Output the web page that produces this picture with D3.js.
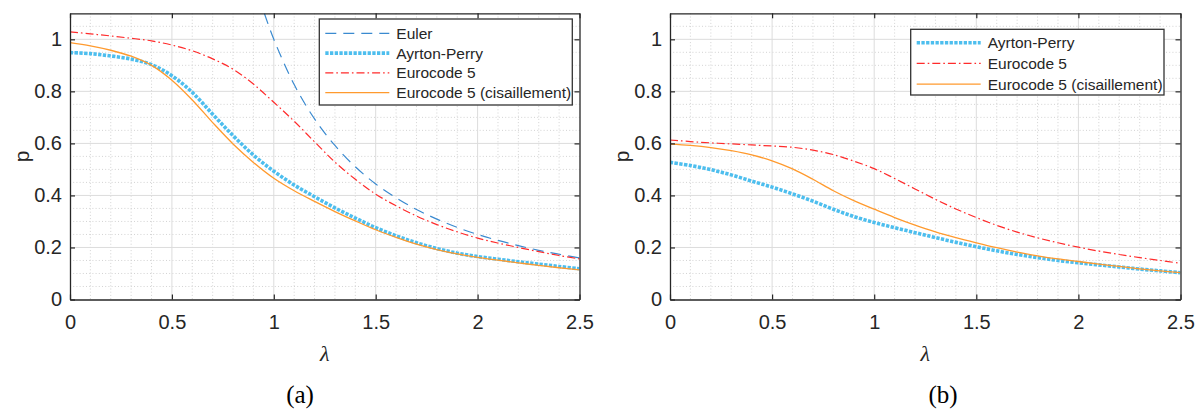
<!DOCTYPE html>
<html><head><meta charset="utf-8">
<script src="https://cdn.jsdelivr.net/npm/d3@7"></script>
<style>
body{margin:0;background:#fff}
text{font-family:"Liberation Sans",Arial,sans-serif}
</style></head><body>
<svg id="c" width="1196" height="410"></svg>
<script>
// ---------- data ----------
const lambda = [0,0.1,0.2,0.3,0.4,0.5,0.6,0.7,0.8,0.9,1.0,1.1,1.2,1.3,1.4,1.5,1.6,1.7,1.8,1.9,2.0,2.1,2.2,2.3,2.4,2.5];

// panel (a)
const eulerLambdaA = [0.954,1.0,1.1,1.2,1.3,1.4,1.5,1.6,1.7,1.8,1.9,2.0,2.1,2.2,2.3,2.4,2.5];
const eulerA = [1.099,1.0,0.826,0.694,0.592,0.510,0.444,0.391,0.346,0.309,0.277,0.250,0.227,0.207,0.189,0.174,0.160];
const ayrtonA = [0.949,0.945,0.936,0.924,0.903,0.860,0.796,0.712,0.630,0.555,0.493,0.440,0.395,0.352,0.313,0.276,0.245,0.218,0.196,0.178,0.165,0.155,0.145,0.136,0.127,0.118];
const ec5A = [1.029,1.021,1.013,1.004,0.994,0.978,0.956,0.925,0.885,0.828,0.758,0.685,0.606,0.528,0.462,0.405,0.360,0.321,0.288,0.260,0.236,0.217,0.200,0.184,0.169,0.156];
const ec5ShearA = [0.987,0.975,0.958,0.935,0.900,0.843,0.767,0.680,0.598,0.527,0.466,0.418,0.377,0.338,0.302,0.268,0.239,0.213,0.192,0.175,0.162,0.151,0.141,0.131,0.122,0.114];

// panel (b)
const ayrtonB = [0.527,0.515,0.499,0.479,0.455,0.432,0.406,0.378,0.347,0.319,0.296,0.276,0.257,0.238,0.220,0.203,0.187,0.173,0.161,0.150,0.141,0.133,0.125,0.117,0.110,0.103];
const ec5B = [0.613,0.607,0.602,0.598,0.594,0.590,0.585,0.574,0.557,0.532,0.503,0.465,0.425,0.385,0.348,0.315,0.285,0.259,0.237,0.218,0.201,0.186,0.173,0.161,0.150,0.139];
const ec5ShearB = [0.597,0.592,0.584,0.572,0.556,0.533,0.502,0.462,0.418,0.380,0.347,0.315,0.286,0.260,0.238,0.218,0.199,0.182,0.168,0.156,0.146,0.136,0.127,0.118,0.110,0.103];

// axes
const xMajorTicks = [0,0.5,1,1.5,2,2.5];
const yMajorTicks = [0,0.2,0.4,0.6,0.8,1];
const xDomain = [0,2.5];
const yDomain = [0,1.1];
const seriesNames = ["Euler","Ayrton-Perry","Eurocode 5","Eurocode 5 (cisaillement)"];
const xLabel = "λ";
const yLabel = "p";
const captions = ["(a)","(b)"];

// ---------- styles ----------
const styles = {
  "Euler": {stroke:"#3a8ad0", width:1.2, dash:"11,7"},
  "Ayrton-Perry": {stroke:"#4dbeee", width:3.6, dash:"3.3,1.4"},
  "Eurocode 5": {stroke:"#ff2b2b", width:1.2, dash:"8,3,1.6,3"},
  "Eurocode 5 (cisaillement)": {stroke:"#ff9a2e", width:1.3, dash:null}
};

const svg = d3.select("#c");
const axisColor = "#262626";

function panel(cfg, idx){
  const x = d3.scaleLinear().domain(xDomain).range([cfg.left, cfg.right]);
  const y = d3.scaleLinear().domain(yDomain).range([cfg.bottom, cfg.top]);
  const g = svg.append("g");

  // minor grid
  const xMinor = d3.range(1,25).map(i=>i/10).filter(v=>Math.abs(v*2-Math.round(v*2))>1e-6);
  const yMinor = d3.range(1,22).map(i=>i/20).filter(v=>Math.abs(v*5-Math.round(v*5))>1e-6);
  g.append("g").selectAll("line").data(xMinor).join("line")
    .attr("x1",d=>x(d)).attr("x2",d=>x(d)).attr("y1",cfg.top).attr("y2",cfg.bottom)
    .attr("stroke","#c8c8c8").attr("stroke-width",0.8).attr("stroke-dasharray","1,2.2");
  g.append("g").selectAll("line").data(yMinor).join("line")
    .attr("y1",d=>y(d)).attr("y2",d=>y(d)).attr("x1",cfg.left).attr("x2",cfg.right)
    .attr("stroke","#c8c8c8").attr("stroke-width",0.8).attr("stroke-dasharray","1,2.2");
  // major grid
  g.append("g").selectAll("line").data(xMajorTicks.slice(1,-1)).join("line")
    .attr("x1",d=>x(d)).attr("x2",d=>x(d)).attr("y1",cfg.top).attr("y2",cfg.bottom)
    .attr("stroke","#dcdcdc").attr("stroke-width",1);
  g.append("g").selectAll("line").data(yMajorTicks.slice(1)).join("line")
    .attr("y1",d=>y(d)).attr("y2",d=>y(d)).attr("x1",cfg.left).attr("x2",cfg.right)
    .attr("stroke","#dcdcdc").attr("stroke-width",1);

  // clip
  const clipId = "clip"+idx;
  svg.append("clipPath").attr("id",clipId).append("rect")
    .attr("x",cfg.left).attr("y",cfg.top).attr("width",cfg.right-cfg.left).attr("height",cfg.bottom-cfg.top);

  const line = d3.line().x(d=>x(d[0])).y(d=>y(d[1])).curve(d3.curveCatmullRom.alpha(0.5));
  const lines = g.append("g").attr("clip-path",`url(#${clipId})`);
  cfg.series.forEach(s=>{
    const st = styles[s.name];
    const pts = s.xs.map((v,i)=>[v,s.ys[i]]);
    lines.append("path").datum(pts).attr("d",line)
      .attr("fill","none").attr("stroke",st.stroke).attr("stroke-width",st.width)
      .attr("stroke-dasharray",st.dash).attr("stroke-linejoin","round");
  });

  // axes
  const fmt = d3.format("~g");
  const ax = [
    g.append("g").attr("transform",`translate(0,${cfg.bottom})`)
      .call(d3.axisBottom(x).tickValues(xMajorTicks).tickFormat(fmt).tickSizeInner(-5).tickSizeOuter(0).tickPadding(15.5)),
    g.append("g").attr("transform",`translate(${cfg.left},0)`)
      .call(d3.axisLeft(y).tickValues(yMajorTicks).tickFormat(fmt).tickSizeInner(-5).tickSizeOuter(0).tickPadding(8)),
    g.append("g").attr("transform",`translate(0,${cfg.top})`)
      .call(d3.axisTop(x).tickValues(xMajorTicks).tickFormat("").tickSizeInner(-5).tickSizeOuter(0)),
    g.append("g").attr("transform",`translate(${cfg.right},0)`)
      .call(d3.axisRight(y).tickValues(yMajorTicks).tickFormat("").tickSizeInner(-5).tickSizeOuter(0))
  ];
  ax.forEach(a=>{
    a.select(".domain").attr("stroke",axisColor).attr("stroke-width",1.3);
    a.selectAll(".tick line").attr("stroke",axisColor).attr("stroke-width",1.2);
    a.selectAll(".tick text").attr("fill",axisColor).style("font-size","20px")
      .style("font-family",'"Liberation Sans",Arial,sans-serif');
  });

  // labels
  g.append("text").attr("transform",`translate(${cfg.left-47},${(cfg.top+cfg.bottom)/2}) rotate(-90)`)
    .attr("text-anchor","middle").attr("dominant-baseline","middle")
    .attr("fill",axisColor).style("font-size","21px").text(yLabel);
  g.append("text").attr("x",(cfg.left+cfg.right)/2).attr("y",cfg.bottom+61)
    .attr("text-anchor","middle").attr("fill",axisColor)
    .style("font-family",'"Liberation Serif","Times New Roman",serif').style("font-style","italic")
    .style("font-size","22px").text(xLabel);
  g.append("text").attr("x",cfg.captionX).attr("y",403)
    .attr("text-anchor","middle").attr("fill","#000")
    .style("font-family",'"Liberation Serif","Times New Roman",serif')
    .style("font-size","25px").text(captions[idx]);

  // legend
  const L = cfg.legend;
  const lg = g.append("g");
  lg.append("rect").attr("x",L.x).attr("y",L.y).attr("width",L.w).attr("height",L.h)
    .attr("fill","#fff").attr("stroke","#333").attr("stroke-width",1.3);
  cfg.series.forEach((s,i)=>{
    const st = styles[s.name];
    const cy = L.y + L.first + i*L.step;
    lg.append("line").attr("x1",L.x+6).attr("x2",L.x+70).attr("y1",cy).attr("y2",cy)
      .attr("stroke",st.stroke).attr("stroke-width",st.width).attr("stroke-dasharray",st.dash);
    lg.append("text").attr("x",L.x+77).attr("y",cy).attr("dominant-baseline","central")
      .attr("fill",axisColor).style("font-size","15.5px").text(s.name);
  });
}

panel({
  left:70, right:579.5, top:13.3, bottom:299.5, captionX:300,
  legend:{x:319.3, y:19, w:253, h:86, first:14.3, step:19.8},
  series:[
    {name:seriesNames[0], xs:eulerLambdaA, ys:eulerA},
    {name:seriesNames[1], xs:lambda, ys:ayrtonA},
    {name:seriesNames[2], xs:lambda, ys:ec5A},
    {name:seriesNames[3], xs:lambda, ys:ec5ShearA}
  ]
},0);

panel({
  left:670, right:1180.5, top:13.3, bottom:299.5, captionX:943,
  legend:{x:910.7, y:29.3, w:253.3, h:65.7, first:13.4, step:20.7},
  series:[
    {name:seriesNames[1], xs:lambda, ys:ayrtonB},
    {name:seriesNames[2], xs:lambda, ys:ec5B},
    {name:seriesNames[3], xs:lambda, ys:ec5ShearB}
  ]
},1);
</script>
</body></html>
